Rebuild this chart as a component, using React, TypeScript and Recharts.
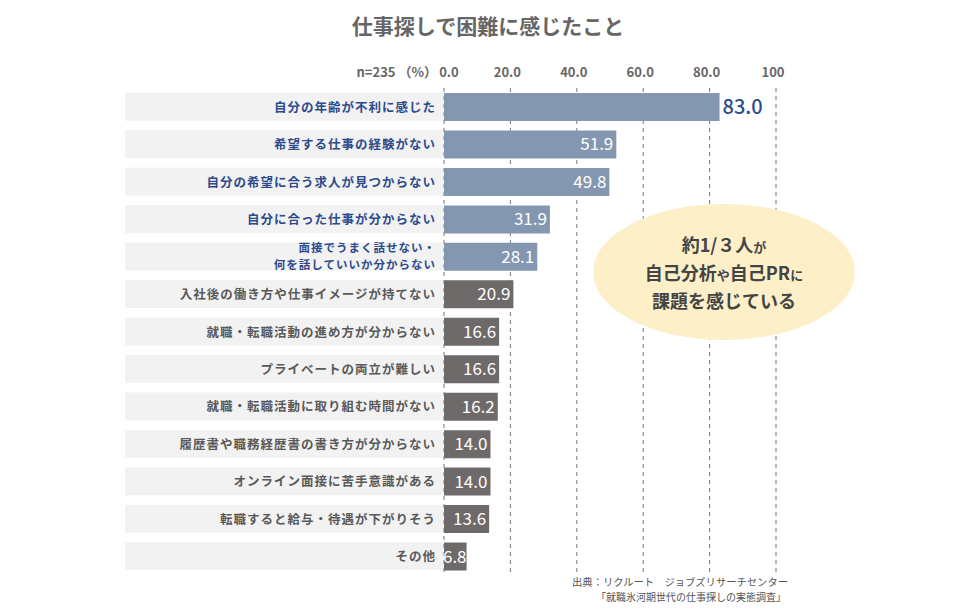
import React from "react";
import { BarChart, Bar, XAxis, YAxis, CartesianGrid, LabelList, Cell } from "recharts";

const categories = [
  "自分の年齢が不利に感じた",
  "希望する仕事の経験がない",
  "自分の希望に合う求人が見つからない",
  "自分に合った仕事が分からない",
  "面接でうまく話せない・\n何を話していいか分からない",
  "入社後の働き方や仕事イメージが持てない",
  "就職・転職活動の進め方が分からない",
  "プライベートの両立が難しい",
  "就職・転職活動に取り組む時間がない",
  "履歴書や職務経歴書の書き方が分からない",
  "オンライン面接に苦手意識がある",
  "転職すると給与・待遇が下がりそう",
  "その他",
];
const values = [83.0, 51.9, 49.8, 31.9, 28.1, 20.9, 16.6, 16.6, 16.2, 14.0, 14.0, 13.6, 6.8];
const xTicks = [0, 20, 40, 60, 80, 100];
const highlightCount = 5;

const FONT = '"Noto Sans CJK JP", "Noto Sans", sans-serif';
const BLUE_BAR = "#8497b0";
const GRAY_BAR = "#6f6a6a";
const BLUE_TEXT = "#2c4a8c";
const GRAY_TEXT = "#595959";

const data = categories.map((name, i) => ({ name, value: values[i] }));

// 左側のカテゴリ名（灰色の帯つき）
const CategoryTick = (props: any) => {
  const { y, payload } = props;
  const idx = categories.indexOf(payload.value);
  const lines = String(payload.value).split("\n");
  const color = idx < highlightCount ? BLUE_TEXT : GRAY_TEXT;
  const multi = lines.length > 1;
  return (
    <g>
      <rect x={125} y={y - 14} width={318} height={28} fill="#f2f2f2" />
      {lines.map((line, i) => (
        <text
          key={i}
          x={436}
          y={y + (multi ? 4 : 5) + (i - (lines.length - 1) / 2) * 16.5}
          textAnchor="end"
          fontFamily={FONT}
          fontSize={multi ? 11.5 : 12.5}
          fontWeight={700}
          letterSpacing={1}
          fill={color}
        >
          {line}
        </text>
      ))}
    </g>
  );
};

const ValueTick = (props: any) => {
  const { x, payload } = props;
  const v = payload.value;
  return (
    <text x={v === 0 ? x + 5 : x - 3} y={77} textAnchor="middle" fontFamily={FONT} fontSize={13} fontWeight={700} fill="#666">
      {v === 100 ? "100" : v.toFixed(1)}
    </text>
  );
};

const ValueLabel = (props: any) => {
  const { x, y, width, height, value, index } = props;
  if (index === 0) {
    return (
      <text x={x + width + 3} y={y + height / 2 + 7} fontFamily={FONT} fontSize={20} fontWeight={500} fill={BLUE_TEXT}>
        {Number(value).toFixed(1)}
      </text>
    );
  }
  const pad = width < 30 ? 0 : 3;
  return (
    <text x={x + width - pad} y={y + height / 2 + 6} textAnchor="end" fontFamily={FONT} fontSize={17} fill="#fff">
      {Number(value).toFixed(1)}
    </text>
  );
};

export default function App() {
  return (
    <div style={{ position: "absolute", left: 0, top: 0, width: 980, height: 616, background: "#fff", fontFamily: FONT }}>
      <BarChart
        width={980}
        height={616}
        data={data}
        layout="vertical"
        margin={{ top: 60, right: 204, bottom: 41, left: 0 }}
        barSize={28}
      >
        <CartesianGrid horizontal={false} strokeDasharray="4 4" stroke="#777" />
        <XAxis
          type="number"
          orientation="top"
          domain={[0, 100]}
          ticks={xTicks}
          height={28}
          axisLine={false}
          tickLine={false}
          tick={<ValueTick />}
        />
        <YAxis
          type="category"
          dataKey="name"
          width={444}
          axisLine={false}
          tickLine={false}
          tick={<CategoryTick />}
          interval={0}
        />
        <Bar dataKey="value" isAnimationActive={false}>
          {data.map((_, i) => (
            <Cell key={i} fill={i < highlightCount ? BLUE_BAR : GRAY_BAR} />
          ))}
          <LabelList dataKey="value" content={<ValueLabel />} />
        </Bar>
      </BarChart>

      <svg width={980} height={616} style={{ position: "absolute", left: 0, top: 0, pointerEvents: "none" }}>
        <text x={488} y={34} textAnchor="middle" fontFamily={FONT} fontSize={21} fontWeight={700} fill="#666">
          仕事探しで困難に感じたこと
        </text>
        <text x={437} y={77} textAnchor="end" fontFamily={FONT} fontSize={13} fontWeight={700} fill="#666">
          n=235 （%）
        </text>

        <ellipse cx={724} cy={272} rx={131} ry={68} fill="#fdf0c8" />
        <text x={724} y={252} textAnchor="middle" fontFamily={FONT} fontSize={18} fontWeight={700} fill="#444">
          約1/３人<tspan fontSize={13}>が</tspan>
        </text>
        <text x={724} y={280} textAnchor="middle" fontFamily={FONT} fontSize={18} fontWeight={700} fill="#444">
          自己分析<tspan fontSize={13}>や</tspan>自己PR<tspan fontSize={13}>に</tspan>
        </text>
        <text x={724} y={308} textAnchor="middle" fontFamily={FONT} fontSize={18} fontWeight={700} fill="#444">
          課題を感じている
        </text>

        <text x={788} y={586} textAnchor="end" fontFamily={FONT} fontSize={10.3} fill="#555">
          出典：リクルート　ジョブズリサーチセンター
        </text>
        <text x={786} y={601} textAnchor="end" fontFamily={FONT} fontSize={10} fill="#555">
          「就職氷河期世代の仕事探しの実態調査」
        </text>
      </svg>
    </div>
  );
}
